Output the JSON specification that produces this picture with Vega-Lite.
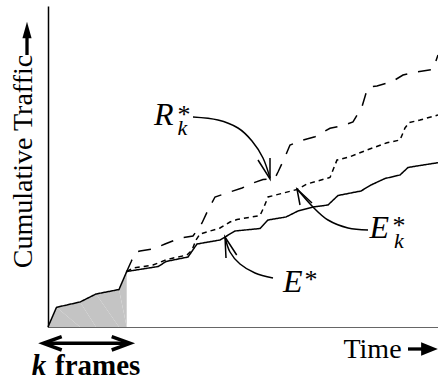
{
  "$schema": "https://vega.github.io/schema/vega-lite/v6.json",
  "width": 390,
  "height": 321,
  "autosize": {"type": "none"},
  "padding": {"left": 48, "top": 6, "right": 0, "bottom": 54},
  "background": "white",
  "config": {"view": {"stroke": null}, "font": "Liberation Serif"},
  "datasets": {
    "traffic": [
      {"s":"E","i":0,"x":0,"y":0},{"s":"E","i":1,"x":8.5,"y":19.7},{"s":"E","i":2,"x":32,"y":25},{"s":"E","i":3,"x":48,"y":33},{"s":"E","i":4,"x":71,"y":37.5},{"s":"E","i":5,"x":78.7,"y":55.5},{"s":"E","i":6,"x":110.3,"y":60.5},{"s":"E","i":7,"x":118,"y":65.5},{"s":"E","i":8,"x":140,"y":70},{"s":"E","i":9,"x":149,"y":83},{"s":"E","i":10,"x":172,"y":87},{"s":"E","i":11,"x":187,"y":96},{"s":"E","i":12,"x":212,"y":98.5},{"s":"E","i":13,"x":220,"y":107},{"s":"E","i":14,"x":238,"y":110},{"s":"E","i":15,"x":250,"y":116},{"s":"E","i":16,"x":265,"y":120},{"s":"E","i":17,"x":280,"y":122},{"s":"E","i":18,"x":290,"y":131.5},{"s":"E","i":19,"x":313,"y":136},{"s":"E","i":20,"x":323,"y":142},{"s":"E","i":21,"x":337,"y":148.5},{"s":"E","i":22,"x":352,"y":152},{"s":"E","i":23,"x":360,"y":159.5},{"s":"E","i":24,"x":372,"y":161.5},{"s":"E","i":25,"x":390,"y":164.3},
      {"s":"Ek","i":0,"x":78.7,"y":55.5},{"s":"Ek","i":1,"x":85,"y":59},{"s":"Ek","i":2,"x":105,"y":62},{"s":"Ek","i":3,"x":119,"y":67.5},{"s":"Ek","i":4,"x":139,"y":72},{"s":"Ek","i":5,"x":144,"y":77},{"s":"Ek","i":6,"x":148,"y":87},{"s":"Ek","i":7,"x":152,"y":93},{"s":"Ek","i":8,"x":172,"y":99},{"s":"Ek","i":9,"x":182,"y":105},{"s":"Ek","i":10,"x":189,"y":107.5},{"s":"Ek","i":11,"x":212,"y":111.5},{"s":"Ek","i":12,"x":216,"y":120},{"s":"Ek","i":13,"x":220,"y":130},{"s":"Ek","i":14,"x":249,"y":137.5},{"s":"Ek","i":15,"x":259,"y":143},{"s":"Ek","i":16,"x":282,"y":149.5},{"s":"Ek","i":17,"x":289,"y":167},{"s":"Ek","i":18,"x":302,"y":170.3},{"s":"Ek","i":19,"x":319,"y":177},{"s":"Ek","i":20,"x":339,"y":184.3},{"s":"Ek","i":21,"x":352,"y":187},{"s":"Ek","i":22,"x":357,"y":199},{"s":"Ek","i":23,"x":361,"y":204.3},{"s":"Ek","i":24,"x":372,"y":207},{"s":"Ek","i":25,"x":390,"y":212},
      {"s":"R","i":0,"x":78.7,"y":55.5},{"s":"R","i":1,"x":83,"y":65},{"s":"R","i":2,"x":87,"y":74.5},{"s":"R","i":3,"x":92,"y":76},{"s":"R","i":4,"x":105,"y":78},{"s":"R","i":5,"x":117,"y":83},{"s":"R","i":6,"x":132,"y":89},{"s":"R","i":7,"x":145,"y":91},{"s":"R","i":8,"x":154,"y":104},{"s":"R","i":9,"x":160,"y":117},{"s":"R","i":10,"x":167,"y":130},{"s":"R","i":11,"x":179,"y":134},{"s":"R","i":12,"x":194,"y":139},{"s":"R","i":13,"x":205,"y":144},{"s":"R","i":14,"x":215,"y":147.5},{"s":"R","i":15,"x":222,"y":148},{"s":"R","i":16,"x":227,"y":149},{"s":"R","i":17,"x":230,"y":155},{"s":"R","i":18,"x":237,"y":170},{"s":"R","i":19,"x":242,"y":182},{"s":"R","i":20,"x":255,"y":187},{"s":"R","i":21,"x":267,"y":190.3},{"s":"R","i":22,"x":282,"y":198.7},{"s":"R","i":23,"x":295,"y":201.5},{"s":"R","i":24,"x":305,"y":205},{"s":"R","i":25,"x":314,"y":220.3},{"s":"R","i":26,"x":319,"y":237},{"s":"R","i":27,"x":321,"y":240},{"s":"R","i":28,"x":329,"y":241},{"s":"R","i":29,"x":344,"y":245.3},{"s":"R","i":30,"x":355,"y":252},{"s":"R","i":31,"x":370,"y":255.3},{"s":"R","i":32,"x":385,"y":257.7},{"s":"R","i":33,"x":390,"y":272}
    ],
    "arrows": [
      {"a":"R","p":"curve","i":0,"x":145,"y":210},{"a":"R","p":"curve","i":1,"x":170,"y":207},{"a":"R","p":"curve","i":2,"x":190,"y":199},{"a":"R","p":"curve","i":3,"x":204,"y":186},{"a":"R","p":"curve","i":4,"x":215,"y":169},{"a":"R","p":"curve","i":5,"x":222,"y":149},
      {"a":"R","p":"head","i":0,"x":210,"y":167},{"a":"R","p":"head","i":1,"x":222,"y":148},{"a":"R","p":"head","i":2,"x":222,"y":169},
      {"a":"Ek","p":"curve","i":0,"x":320,"y":97},{"a":"Ek","p":"curve","i":1,"x":300,"y":99},{"a":"Ek","p":"curve","i":2,"x":280,"y":107},{"a":"Ek","p":"curve","i":3,"x":265,"y":120},{"a":"Ek","p":"curve","i":4,"x":250,"y":137},
      {"a":"Ek","p":"head","i":0,"x":252,"y":122},{"a":"Ek","p":"head","i":1,"x":249,"y":138},{"a":"Ek","p":"head","i":2,"x":264,"y":124},
      {"a":"E","p":"curve","i":0,"x":225,"y":49},{"a":"E","p":"curve","i":1,"x":207,"y":54},{"a":"E","p":"curve","i":2,"x":192,"y":63},{"a":"E","p":"curve","i":3,"x":182,"y":75},{"a":"E","p":"curve","i":4,"x":177,"y":90},
      {"a":"E","p":"head","i":0,"x":178,"y":69},{"a":"E","p":"head","i":1,"x":177,"y":90},{"a":"E","p":"head","i":2,"x":188.7,"y":72}
    ],
    "karrow": [
      {"g":"shaft","i":0,"x":-4,"y":-16.3},{"g":"shaft","i":1,"x":81,"y":-16.3},
      {"g":"lh","i":0,"x":13.7,"y":-9.6},{"g":"lh","i":1,"x":-4.7,"y":-16.3},{"g":"lh","i":2,"x":13.7,"y":-23},
      {"g":"rh","i":0,"x":63.7,"y":-9.6},{"g":"rh","i":1,"x":82,"y":-16.3},{"g":"rh","i":2,"x":63.7,"y":-23}
    ],
    "titleshafts": [
      {"g":"y","i":0,"x":-21,"y":272},{"g":"y","i":1,"x":-21,"y":291},
      {"g":"x","i":0,"x":360,"y":-22},{"g":"x","i":1,"x":376,"y":-22}
    ],
    "letters": [{"t":"R","x":106,"y":202},{"t":"E","x":321.5,"y":89},{"t":"E","x":235,"y":35.3}],
    "stars": [{"t":"*","x":129.5,"y":204.4},{"t":"*","x":344.5,"y":92.7},{"t":"*","x":256.5,"y":39.4}],
    "subs": [{"t":"k","x":129.5,"y":192},{"t":"k","x":346,"y":79}]
  },
  "encoding": {
    "x": {"field": "x", "type": "quantitative",
      "scale": {"domain": [0, 390], "nice": false, "zero": false},
      "axis": {"title": "Time", "domain": true, "domainColor": "#666", "domainWidth": 1, "ticks": false, "labels": false, "grid": false,
        "titleFont": "Liberation Serif", "titleFontSize": 28, "titleFontWeight": "normal", "titleColor": "black",
        "titleX": 324, "titleY": 30, "titleAlign": "center", "titleBaseline": "alphabetic"}},
    "y": {"field": "y", "type": "quantitative",
      "scale": {"domain": [0, 321], "nice": false, "zero": false},
      "axis": {"title": "Cumulative Traffic", "domain": true, "domainColor": "black", "domainWidth": 1.5, "ticks": false, "labels": false, "grid": false,
        "titleFont": "Liberation Serif", "titleFontSize": 28, "titleFontWeight": "normal", "titleColor": "black",
        "titleX": -17, "titleY": 155, "titleAngle": 270, "titleAlign": "center", "titleBaseline": "alphabetic"}}
  },
  "layer": [
    {
      "data": {"name": "traffic"},
      "transform": [{"filter": "datum.s == 'E' && datum.x <= 78.7"}],
      "mark": {"type": "area", "color": "#c4c4c4", "opacity": 1},
      "encoding": {"order": {"field": "i"}}
    },
    {
      "data": {"values": [{}]},
      "mark": {"type": "rule", "color": "#777", "strokeWidth": 1},
      "encoding": {"x": {"datum": 78.7}, "y": {"datum": 0}, "y2": {"datum": 55.5}}
    },
    {
      "data": {"values": [{}]},
      "mark": {"type": "rule", "color": "black", "strokeWidth": 2},
      "encoding": {"x": {"datum": 0}, "x2": {"datum": 390}, "y": {"datum": 321}}
    },
    {
      "data": {"name": "traffic"},
      "mark": {"type": "line", "color": "black", "strokeWidth": 1.5},
      "encoding": {
        "detail": {"field": "s"},
        "order": {"field": "i"},
        "strokeDash": {"field": "s", "type": "nominal", "scale": {"domain": ["E", "Ek", "R"], "range": [[1, 0], [5, 4], [13, 11]]}, "legend": null}
      }
    },
    {
      "data": {"name": "arrows"},
      "transform": [{"filter": "datum.p == 'curve'"}],
      "mark": {"type": "line", "color": "black", "strokeWidth": 1.5, "interpolate": "cardinal"},
      "encoding": {"detail": {"field": "a"}, "order": {"field": "i"}}
    },
    {
      "data": {"name": "arrows"},
      "transform": [{"filter": "datum.p == 'head'"}],
      "mark": {"type": "line", "color": "black", "strokeWidth": 1.5},
      "encoding": {"detail": {"field": "a"}, "order": {"field": "i"}}
    },
    {
      "data": {"name": "karrow"},
      "mark": {"type": "line", "color": "black", "strokeWidth": 3.5, "strokeJoin": "miter"},
      "encoding": {"detail": {"field": "g"}, "order": {"field": "i"}}
    },
    {
      "data": {"name": "titleshafts"},
      "mark": {"type": "line", "color": "black", "strokeWidth": 3.3},
      "encoding": {"detail": {"field": "g"}, "order": {"field": "i"}}
    },
    {
      "data": {"values": [{"x": -21, "y": 297}]},
      "mark": {"type": "point", "shape": "M0,-1L0.55,1L-0.55,1Z", "filled": true, "size": 279, "color": "black", "opacity": 1}
    },
    {
      "data": {"values": [{"x": 381.5, "y": -22}]},
      "mark": {"type": "point", "shape": "M1,0L-1,-0.8L-1,0.8Z", "filled": true, "size": 279, "color": "black", "opacity": 1}
    },
    {
      "data": {"name": "letters"},
      "mark": {"type": "text", "font": "Liberation Serif", "fontStyle": "italic", "fontSize": 32, "align": "left", "baseline": "alphabetic", "color": "black"},
      "encoding": {"text": {"field": "t"}}
    },
    {
      "data": {"name": "stars"},
      "mark": {"type": "text", "font": "Liberation Serif", "fontSize": 26, "align": "left", "baseline": "alphabetic", "color": "black"},
      "encoding": {"text": {"field": "t"}}
    },
    {
      "data": {"name": "subs"},
      "mark": {"type": "text", "font": "Liberation Serif", "fontStyle": "italic", "fontSize": 22, "align": "left", "baseline": "alphabetic", "color": "black"},
      "encoding": {"text": {"field": "t"}}
    },
    {
      "data": {"values": [{"t": "k", "x": -16.3, "y": -48}]},
      "mark": {"type": "text", "font": "Liberation Serif", "fontStyle": "italic", "fontWeight": "bold", "fontSize": 29, "align": "left", "baseline": "alphabetic", "color": "black"},
      "encoding": {"text": {"field": "t"}}
    },
    {
      "data": {"values": [{"t": "frames", "x": 7, "y": -48}]},
      "mark": {"type": "text", "font": "Liberation Serif", "fontWeight": "bold", "fontSize": 29, "align": "left", "baseline": "alphabetic", "color": "black"},
      "encoding": {"text": {"field": "t"}}
    }
  ]
}
